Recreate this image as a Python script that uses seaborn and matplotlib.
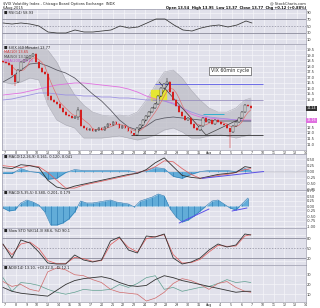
import numpy as np
import pandas as pd
import matplotlib
matplotlib.use("Agg")
import matplotlib.pyplot as plt
from matplotlib.patches import Rectangle
import seaborn as sns

sns.set_theme(style="white")
plt.rcParams['font.family'] = ['DejaVu Sans']

# ---------------- data ----------------
close = [18.38, 18.29, 18.11, 17.21, 16.58, 17.66, 18.38, 18.56, 18.74, 18.92,
         19.10, 18.38, 17.84, 17.48, 17.30, 15.32, 14.96, 14.78, 14.60, 14.24,
         13.88, 13.61, 13.52, 13.34, 13.43, 14.06, 12.62, 12.44, 12.26, 12.35,
         12.17, 12.26, 12.44, 12.26, 12.53, 12.80, 12.71, 12.98, 12.80, 12.44,
         12.62, 12.44, 12.17, 11.99, 11.81, 12.44, 12.71, 13.16, 13.52, 13.88,
         14.24, 14.60, 15.32, 16.04, 16.40, 16.58, 15.68, 14.96, 14.42, 13.88,
         13.52, 13.16, 13.34, 12.80, 12.44, 12.26, 12.62, 13.34, 12.98, 13.16,
         12.80, 13.16, 12.98, 12.80, 12.71, 12.44, 12.08, 12.62, 12.98, 13.34,
         13.88, 14.51, 14.42, 14.24]
first_open = 18.50
wick_bar = [4, 15, 25, 44, 55, 76]
wick_low = [16.2, 15.0, 13.2, 11.7, 16.3, 10.6]
wick_high = [17.3, 17.4, 14.3, 12.0, 16.9, 12.2]

# indicator samples (every 3rd bar + last bar)
sample_bars = list(range(0, 84, 3)) + [83]
bb_upper = [19.28, 19.46, 19.64, 19.73, 19.64, 19.46, 18.38, 16.76, 15.41, 14.51,
            13.88, 13.61, 13.52, 13.61, 13.52, 13.88, 14.96, 16.31, 17.48, 17.66,
            16.94, 15.86, 14.96, 14.24, 13.88, 13.88, 14.24, 14.96, 15.14]
bb_lower = [16.58, 16.40, 16.58, 16.94, 16.76, 14.51, 13.16, 12.71, 12.44, 11.54,
            11.54, 11.54, 11.63, 11.72, 11.54, 11.36, 11.54, 11.81, 12.26, 12.44,
            12.08, 11.54, 11.54, 11.72, 11.90, 11.72, 11.54, 11.72, 11.90]
ma_long_gray = [16.58, 17.03, 17.66, 18.20, 18.29, 18.02, 17.66, 17.39, 16.94, 16.22,
                15.50, 14.87, 14.06, 13.16, 12.53, 12.26, 12.62, 13.16, 13.34, 13.43,
                13.34, 13.25, 13.16, 13.16, 13.07, 13.07, 13.07, 13.07, 13.07]
ema_pink = [15.41, 15.50, 15.59, 15.77, 15.95, 16.13, 16.31, 16.40, 16.49, 16.49,
            16.40, 16.31, 16.22, 16.13, 15.95, 15.68, 15.32, 15.05, 14.87, 14.69,
            14.24, 13.70, 13.43, 13.34, 13.25, 13.25, 13.16, 13.16, 13.16]
ema_purple = [14.96, 15.05, 15.23, 15.41, 15.59, 15.59, 15.50, 15.41, 15.41, 15.32,
              15.32, 15.23, 15.23, 15.14, 15.14, 15.05, 14.96, 14.96, 14.87, 14.60,
              14.24, 13.88, 13.61, 13.43, 13.34, 13.25, 13.16, 13.07, 13.07]
rsi = [59, 56, 59, 56, 50, 32, 29, 29, 38, 32, 32, 35, 38, 50, 44, 47, 59, 71, 71,
       53, 38, 35, 44, 50, 53, 47, 53, 65, 59]
macd = [0.16, 0.12, 0.28, 0.24, 0.16, -0.36, -0.64, -0.72, -0.60, -0.52, -0.44,
        -0.36, -0.28, -0.20, -0.12, -0.08, 0.08, 0.36, 0.56, 0.20, -0.16, -0.24,
        -0.28, -0.20, -0.12, -0.08, -0.04, 0.20, 0.16]
macd_signal = [0.24, 0.20, 0.16, 0.24, 0.20, -0.04, -0.36, -0.68, -0.68, -0.56,
               -0.48, -0.40, -0.32, -0.24, -0.16, -0.04, 0.04, 0.20, 0.44, 0.40,
               0.12, -0.12, -0.28, -0.24, -0.16, -0.12, -0.04, 0.08, 0.12]
hist_bars = list(range(0, 84, 2))
hist2 = [-0.10, -0.25, -0.20, 0.15, 0.30, 0.20, 0.05, -0.30, -0.95, -0.95, -0.85,
         -0.65, -0.30, 0.25, 0.15, 0.15, 0.20, 0.25, 0.30, 0.20, 0.15, 0.10, -0.05,
         0.25, 0.35, 0.45, 0.60, 0.50, -0.15, -0.55, -0.80, -0.70, -0.50, -0.25,
         0.00, 0.25, 0.30, 0.10, -0.10, -0.20, 0.10, 0.40]
stoch_k = [62, 20, 74, 65, 38, 5, 2, 2, 29, 14, 8, 14, 71, 83, 44, 35, 86, 83, 92,
           20, 2, 8, 20, 44, 62, 53, 59, 92, 89]
stoch_d = [60, 30, 62, 68, 48, 12, 3, 3, 22, 18, 10, 12, 60, 80, 52, 38, 78, 84, 90,
           30, 5, 6, 16, 38, 58, 55, 56, 86, 90]
adx = [17, 13, 11, 10, 9, 8, 14, 20, 24, 26, 27, 28, 26, 22, 19, 18, 19, 25, 29,
       27, 24, 22, 20, 18, 16, 14, 12, 13, 13]
di_minus = [23, 18, 20, 15, 13, 33, 37, 35, 30, 29, 25, 22, 15, 12, 11, 10, 3, 6,
            12, 21, 26, 24, 20, 15, 21, 23, 17, 13, 12]
di_plus = [27, 13, 22, 21, 19, 15, 12, 10, 12, 15, 14, 14, 15, 20, 17, 21, 27, 29,
           15, 17, 13, 15, 17, 18, 21, 25, 22, 23, 22]

day_labels = ['7', '8', '9', '10', '13', '14', '15', '16', '17', '20', '21', '22',
              '23', '24', '27', '28', '29', '30', '31', 'Aug', '4', '5', '6', '7',
              '10', '11', '12', '13', '14']

# annotation lines (bar, value)
blue_level = 16.40
gray_level = 14.96
cyan_level = 13.70
support_level = 11.81
trend_up1 = ([44.7, 55.7], [11.81, 16.58])
trend_down = ([52.3, 68.0], [16.58, 11.81])
trend_up2 = ([68.0, 80.0], [11.81, 13.34])
macd_trend = ([66.7, 87.3], [-0.28, 0.0])
hist_trend1 = ([59.0, 69.0], [-0.85, -0.15])
hist_trend2 = ([76.7, 81.7], [-0.25, -0.10])

# ---------------- layout ----------------
W, H = 320, 308
fig = plt.figure(figsize=(W / 100, H / 100), dpi=100)
fig.patch.set_facecolor('white')
X0, X1 = 2, 306
BG = '#e1e1eb'
GRID = '#f6f6fa'
SP = '#9c9cac'
FS = 2.6


def make_ax(ytop, ybot):
    ax = fig.add_axes([X0 / W, 1 - ybot / H, (X1 - X0) / W, (ybot - ytop) / H])
    ax.set_facecolor(BG)
    for s in ax.spines.values():
        s.set_color(SP)
        s.set_linewidth(0.5)
    ax.set_xlim(-0.33, 101)
    day_pos = [0.667 + 3.6 * k for k in range(len(day_labels))]
    for p in day_pos:
        ax.axvline(p, color=GRID, lw=0.45, zorder=0)
    ax.set_xticks(day_pos)
    ax.set_xticklabels([])
    ax.tick_params(axis='x', length=0, labelsize=FS, pad=0.6)
    ax.yaxis.tick_right()
    ax.tick_params(axis='y', length=0, labelsize=FS, pad=0.8, colors='#333333')
    return ax, day_pos


def line(ax, xs, ys, color, lw=0.55, z=3):
    sns.lineplot(x=xs, y=ys, ax=ax, color=color, linewidth=lw, legend=False, zorder=z)
    ax.set_xlabel('')
    ax.set_ylabel('')


def hgrid(ax, vals):
    for v in vals:
        ax.axhline(v, color=GRID, lw=0.45, zorder=0)


def striped_hist(ax, xs, vals):
    ax.fill_between(xs, 0, vals, color='#62acd8', lw=0, zorder=2)
    ax.vlines(xs, 0, vals, color='#2c7cb4', lw=0.45, zorder=3)
    ax.plot(xs, vals, color='#2c7cb4', lw=0.4, zorder=3)


# titles
fig.text(3 / W, 1 - 3.5 / H, '$VIX Volatility Index - Chicago Board Options Exchange  INDX',
         fontsize=2.6, va='center', color='#222222')
fig.text(3 / W, 1 - 7.5 / H, '6-Aug-2015', fontsize=2.6, va='center', color='#222222')
fig.text(306 / W, 1 - 3.5 / H, '@ StockCharts.com', fontsize=2.6, va='center', ha='right',
         color='#222222')
fig.text(306 / W, 1 - 7.5 / H, 'Open 13.54  High 13.95  Low 13.37  Close 13.77  Chg +0.12 (+0.88%)',
         fontsize=2.6, va='center', ha='right', color='#111111', fontweight='bold')

# ---------------- RSI ----------------
ax_rsi, day_pos = make_ax(9, 44)
ax_rsi.set_ylim(-4, 101)
hgrid(ax_rsi, [10, 90])
for v in (70, 30):
    ax_rsi.axhline(v, color='#8c8c9c', lw=0.6, zorder=1)
ax_rsi.axhline(50, color='#8c8c9c', lw=0.5, ls=(0, (2, 2)), zorder=1)
line(ax_rsi, sample_bars, rsi, '#333333')
ax_rsi.set_yticks([10, 30, 50, 70, 90])
ax_rsi.set_xlim(-0.33, 101)
ax_rsi.text(0.5, 96, '\u25a0 RSI(14) 58.93', fontsize=FS, va='top', color='#222222')

# ---------------- Main price ----------------
ax_p, _ = make_ax(44, 150)
ax_p.set_ylim(10.46, 20.0)
tags = [(close[-1], '#333333'), (ema_pink[-1], '#e070e0')]
yt = list(np.arange(11.0, 20.0, 0.5))
hgrid(ax_p, yt)
ax_p.set_yticks(yt)
ax_p.set_yticklabels(['' if any(abs(v - t) < 0.45 for t, _ in tags) else f'{v:.1f}' for v in yt])
ax_p.fill_between(sample_bars, bb_lower, bb_upper, color='#bdbdc6', alpha=0.75, lw=0, zorder=1)
sns.lineplot(x=sample_bars, y=bb_upper, ax=ax_p, color='#a8a8b2', linewidth=0.35, legend=False, zorder=1)
sns.lineplot(x=sample_bars, y=bb_lower, ax=ax_p, color='#a8a8b2', linewidth=0.35, legend=False, zorder=1)
ax_p.add_patch(Rectangle((49.5, 14.96), 5.0, 0.9, color='#e6e632', zorder=2))
line(ax_p, sample_bars, ema_pink, '#e070e0', 0.6, 2)
line(ax_p, sample_bars, ema_purple, '#9d92e2', 0.6, 2)
line(ax_p, sample_bars, ma_long_gray, '#55555f', 0.55, 2)
bars = np.arange(len(close))
ma_short = pd.Series(close).rolling(5, min_periods=1).mean()
line(ax_p, bars, ma_short, '#e06a6a', 0.45, 4)
opens = [first_open] + close[:-1]
for i, (o, c) in enumerate(zip(opens, close)):
    lo, hi = min(o, c), max(o, c)
    if i in wick_bar:
        j = wick_bar.index(i)
        lo2, hi2 = min(lo, wick_low[j]), max(hi, wick_high[j])
    else:
        lo2, hi2 = lo - 0.06, hi + 0.06
    col = '#d42020' if c < o else '#111111'
    ax_p.vlines(i, lo2, hi2, color=col, lw=0.35, zorder=5)
    if c < o:
        ax_p.bar(i, hi - lo, bottom=lo, width=0.6, color=col, lw=0, zorder=6)
    else:
        ax_p.bar(i, max(hi - lo, 0.05), bottom=lo, width=0.6, facecolor='#f0f0f0',
                 edgecolor='#111111', lw=0.3, zorder=6)
ax_p.hlines(blue_level, 51, 87, color='#5a5ae6', lw=0.6, zorder=3)
ax_p.hlines(gray_level, 50, 87, color='#9a90c0', lw=0.6, zorder=3)
ax_p.hlines(cyan_level, 67, 74, color='#30b0d0', lw=0.7, zorder=3)
ax_p.hlines(support_level, 43, 87, color='#333333', lw=0.6, zorder=3)
for tl in (trend_up1, trend_down, trend_up2):
    ax_p.plot(tl[0], tl[1], color='#444444', lw=0.5, zorder=4)
ax_p.text(76, 17.6, 'VIX 60min cycle', fontsize=3.4, ha='center', va='center', zorder=8,
          bbox=dict(boxstyle='square,pad=0.35', fc='white', ec='#333333', lw=0.4))
ax_p.text(0.5, 19.85, '\u25a0 $VIX (60 Minute) 13.77', fontsize=FS, va='top', color='#222222', zorder=9)
ax_p.text(0.5, 19.45, 'MA(10) 13.65', fontsize=FS, va='top', color='#d03030', zorder=9)
ax_p.text(0.5, 19.05, 'MA(50) 13.10', fontsize=FS, va='top', color='#444444', zorder=9)
ax_p.text(0.5, 18.65, 'EMA(200) 13.13', fontsize=FS, va='top', color='#c050d0', zorder=9)
ax_p.set_xticklabels(day_labels)
ax_p.tick_params(axis='x', labelsize=2.3, pad=0.5, colors='#333333')
# last-value tags on right axis
for val, fc in tags:
    ax_p.text(1.003, (val - 10.46) / (20.0 - 10.46), f'{val:.2f}', transform=ax_p.transAxes,
              fontsize=2.4, va='center', ha='left', color='white', zorder=9,
              bbox=dict(boxstyle='square,pad=0.15', fc=fc, ec='none'))

# ---------------- MACD ----------------
ax_m, _ = make_ax(154, 190)
ax_m.set_ylim(-0.76, 0.72)
mt = [-0.75, -0.5, -0.25, 0.0, 0.25, 0.5]
hgrid(ax_m, mt)
ax_m.set_yticks(mt)
ax_m.set_yticklabels([f'{v:.2f}' for v in mt])
diff = np.array(macd) - np.array(macd_signal)
striped_hist(ax_m, sample_bars, diff)
ax_m.axhline(0, color='#8c8c9c', lw=0.3, zorder=1)
line(ax_m, sample_bars, macd_signal, '#e06060', 0.55, 4)
line(ax_m, sample_bars, macd, '#333333', 0.6, 5)
ax_m.plot(macd_trend[0], macd_trend[1], color='#5a50e8', lw=0.7, zorder=6)
ax_m.text(0.5, 0.68, '\u25a0 MACD(12,26,9) 0.161, 0.120, 0.041', fontsize=FS, va='top', color='#222222')

# ---------------- Histogram ----------------
ax_h, _ = make_ax(190, 228)
ax_h.set_ylim(-1.1, 0.8)
ht = [-1.0, -0.75, -0.5, -0.25, 0.0, 0.25, 0.5, 0.75]
hgrid(ax_h, ht)
ax_h.set_yticks(ht)
ax_h.set_yticklabels([f'{v:.2f}' for v in ht])
striped_hist(ax_h, hist_bars, hist2)
ax_h.plot(hist_trend1[0], hist_trend1[1], color='#5a50e8', lw=0.7, zorder=5)
ax_h.plot(hist_trend2[0], hist_trend2[1], color='#5a50e8', lw=0.7, zorder=5)
ax_h.text(0.5, 0.76, '\u25a0 MACD(5,35,5) 0.380, 0.201, 0.179', fontsize=FS, va='top', color='#222222')

# ---------------- Stochastic ----------------
ax_s, _ = make_ax(228, 265)
ax_s.set_ylim(-1, 110)
hgrid(ax_s, [10, 90])
for v in (80, 20):
    ax_s.axhline(v, color='#8c8c9c', lw=0.6, zorder=1)
ax_s.axhline(50, color='#8c8c9c', lw=0.5, ls=(0, (2, 2)), zorder=1)
ax_s.set_yticks([20, 50, 80])
line(ax_s, sample_bars, stoch_d, '#e06060', 0.55, 3)
line(ax_s, sample_bars, stoch_k, '#333333', 0.6, 4)
ax_s.text(0.5, 107, '\u25a0 Slow STO %K(14,3) 88.6, %D 90.1', fontsize=FS, va='top', color='#222222')

# ---------------- ADX ----------------
ax_a, _ = make_ax(265, 302)
ax_a.set_ylim(2, 40)
at = [10, 20, 30]
hgrid(ax_a, at)
ax_a.set_yticks(at)
line(ax_a, sample_bars, di_plus, '#5f9f8f', 0.5, 3)
line(ax_a, sample_bars, di_minus, '#d06a6a', 0.5, 3)
line(ax_a, sample_bars, adx, '#333333', 0.6, 4)
ax_a.text(0.5, 39, '\u25a0 ADX(14) 13.10, +DI 22.0, -DI 12.1', fontsize=FS, va='top', color='#222222')
ax_a.set_xticklabels(day_labels)
ax_a.tick_params(axis='x', labelsize=2.3, pad=0.5, colors='#333333')

fig.savefig('out.png', dpi=100, facecolor='white')
